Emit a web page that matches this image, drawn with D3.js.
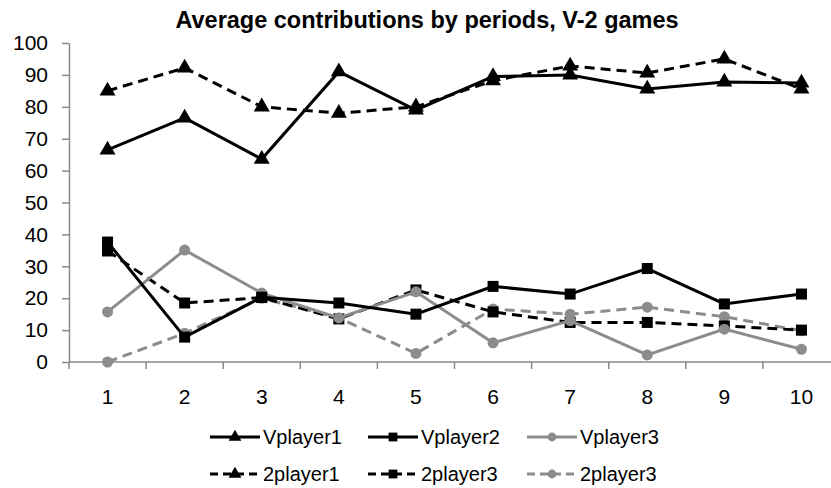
<!DOCTYPE html>
<html>
<head>
<meta charset="utf-8">
<script src="https://cdn.jsdelivr.net/npm/d3@7"></script>
<style>
  body { margin: 0; background: #fff; }
  svg { display: block; font-family: "Liberation Sans", Arial, sans-serif; }
</style>
</head>
<body>
<svg id="chart" width="831" height="488"></svg>
<script>
// data
var periods = [1, 2, 3, 4, 5, 6, 7, 8, 9, 10];
var yTicks = [0, 10, 20, 30, 40, 50, 60, 70, 80, 90, 100];

var vplayer1 = [66.5, 76.5, 63.6, 91, 79, 89.5, 90, 85.6, 87.8, 87.5];
var vplayer2 = [37.6, 7.8, 20.3, 18.5, 15, 23.7, 21.3, 29.3, 18.2, 21.3];
var vplayer3 = [15.7, 35.1, 21.6, 13.8, 22, 6, 13, 2.2, 10.3, 4];
var twoPlayer1 = [85, 92.2, 80, 78, 80, 88.2, 92.8, 90.6, 95, 85.6];
var twoPlayer3 = [34.8, 18.5, 20.2, 13.5, 22.6, 15.7, 12.4, 12.4, 11.3, 10];
var twoPlayer3b = [0, 9, 20, 13.8, 2.7, 16.6, 15, 17.2, 14.2, 9.8];

var seriesNames = ['Vplayer1', 'Vplayer2', 'Vplayer3', '2player1', '2player3', '2player3'];
var seriesValues = [vplayer1, vplayer2, vplayer3, twoPlayer1, twoPlayer3, twoPlayer3b];

var grey = '#8c8c8c';
var styles = [
  { color: '#000', dash: null, marker: 'triangle' },
  { color: '#000', dash: null, marker: 'square' },
  { color: grey, dash: null, marker: 'circle' },
  { color: '#000', dash: '10,6', marker: 'triangle' },
  { color: '#000', dash: '10,6', marker: 'square' },
  { color: grey, dash: '10,6', marker: 'circle' }
];

var svg = d3.select('#chart');

var plotLeft = 69, plotTop = 43, plotBottom = 362;

var x = d3.scaleBand()
  .domain(periods)
  .range([plotLeft, plotLeft + 771]);

var y = d3.scaleLinear()
  .domain([0, 100])
  .range([plotBottom, plotTop]);

var axisColor = '#8a8a8a';

// y axis
var yAxis = svg.append('g')
  .attr('transform', 'translate(' + plotLeft + ',0)')
  .call(d3.axisLeft(y).tickValues(yTicks).tickSize(7).tickSizeOuter(0).tickPadding(14));
yAxis.select('.domain').attr('stroke', axisColor).attr('stroke-width', 1.5);
yAxis.selectAll('.tick line').attr('stroke', axisColor).attr('stroke-width', 1.5);
yAxis.selectAll('text').attr('font-size', 21).attr('fill', '#000')
  .attr('font-family', '"Liberation Sans", Arial, sans-serif');

// x axis: ticks on the band boundaries, labels in the middle
var xAxis = svg.append('g')
  .attr('transform', 'translate(0,' + plotBottom + ')');
xAxis.append('line')
  .attr('x1', plotLeft).attr('x2', plotLeft + 771)
  .attr('stroke', axisColor).attr('stroke-width', 1.5);
xAxis.selectAll('.xtick')
  .data(periods)
  .enter().append('line')
  .attr('class', 'xtick')
  .attr('x1', function(d) { return x(d); })
  .attr('x2', function(d) { return x(d); })
  .attr('y1', 0).attr('y2', 7)
  .attr('stroke', axisColor).attr('stroke-width', 1.5);
xAxis.selectAll('.xlabel')
  .data(periods)
  .enter().append('text')
  .attr('class', 'xlabel')
  .attr('x', function(d) { return x(d) + x.bandwidth() / 2; })
  .attr('y', 42)
  .attr('text-anchor', 'middle')
  .attr('font-size', 21)
  .text(function(d) { return d; });

// title
svg.append('text')
  .attr('x', 427)
  .attr('y', 28)
  .attr('text-anchor', 'middle')
  .attr('font-size', 23.5)
  .attr('font-weight', 'bold')
  .text('Average contributions by periods, V-2 games');

var line = d3.line()
  .x(function(d, i) { return x(periods[i]) + x.bandwidth() / 2; })
  .y(function(d) { return y(d); });

function drawMarker(g, type, color) {
  if (type === 'triangle') {
    g.append('path').attr('d', d3.symbol(d3.symbolTriangle, 110)()).attr('fill', color);
  } else if (type === 'square') {
    g.append('rect').attr('x', -5.5).attr('y', -5.5).attr('width', 11).attr('height', 11).attr('fill', color);
  } else {
    g.append('circle').attr('r', 5.5).attr('fill', color);
  }
}

// draw in an order close to the original stacking
var order = [5, 4, 2, 3, 1, 0];
order.forEach(function(k) {
  var s = styles[k];
  var g = svg.append('g');
  g.append('path')
    .datum(seriesValues[k])
    .attr('d', line)
    .attr('fill', 'none')
    .attr('stroke', s.color)
    .attr('stroke-width', 3)
    .attr('stroke-dasharray', s.dash);
  g.selectAll('.m')
    .data(seriesValues[k])
    .enter().append('g')
    .attr('class', 'm')
    .attr('transform', function(d, i) {
      return 'translate(' + (x(periods[i]) + x.bandwidth() / 2) + ',' + y(d) + ')';
    })
    .each(function() { drawMarker(d3.select(this), s.marker, s.color); });
});

// legend
var legX = [210, 368, 527];
var legY = [437, 474];
seriesNames.forEach(function(name, k) {
  var s = styles[k];
  var col = k % 3, row = Math.floor(k / 3);
  var g = svg.append('g').attr('transform', 'translate(' + legX[col] + ',' + legY[row] + ')');
  g.append('line')
    .attr('x1', 0).attr('x2', 50)
    .attr('stroke', s.color)
    .attr('stroke-width', 3)
    .attr('stroke-dasharray', s.dash ? '8,5' : null);
  var mg = g.append('g').attr('transform', 'translate(25,0) scale(0.8)');
  drawMarker(mg, s.marker, s.color);
  g.append('text')
    .attr('x', 53)
    .attr('y', 7)
    .attr('font-size', 20)
    .text(name);
});
</script>
</body>
</html>
